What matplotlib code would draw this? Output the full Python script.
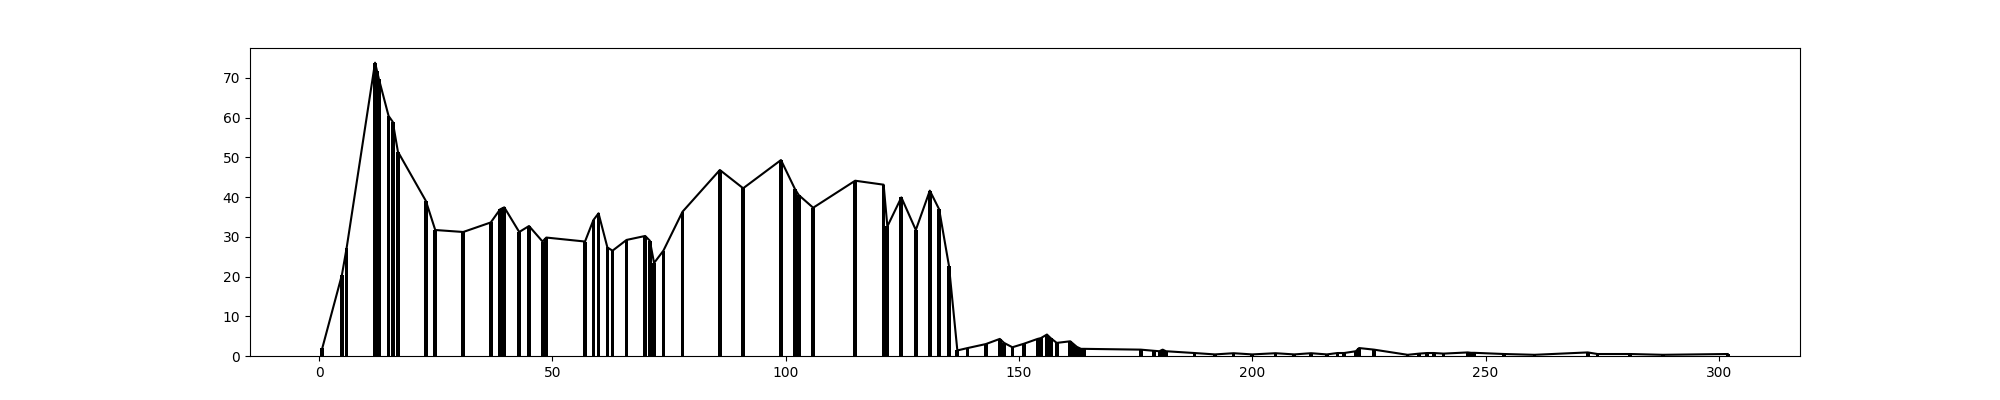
import matplotlib
matplotlib.use("Agg")
import matplotlib.pyplot as plt

x = [0.7, 4.9, 5.9, 12.0, 12.4, 12.8, 14.9, 15.8, 16.9, 22.9, 24.9, 30.9,
     36.8, 38.8, 39.7, 42.9, 45.0, 47.9, 48.7, 57.0, 58.8, 59.9, 61.8, 62.9,
     65.9, 69.9, 70.9, 71.8, 73.8, 77.9, 85.9, 90.9, 99.0, 102.0, 102.8, 105.9,
     114.9, 121.0, 121.8, 124.8, 127.9, 130.9, 132.9, 135.0, 136.8, 139.0,
     142.9, 145.9, 146.8, 148.6, 151.1, 154.0, 154.7, 156.0, 156.8, 158.1,
     161.0, 161.7, 162.4, 163.3, 164.0, 176.1, 179.0, 180.1, 180.8, 181.5,
     187.6, 192.0, 196.0, 200.0, 205.0, 209.0, 212.6, 216.0, 218.3, 219.7,
     222.2, 222.9, 226.1, 233.3, 235.8, 237.5, 238.9, 241.0, 246.2, 246.9,
     247.6, 254.0, 260.5, 271.9, 274.0, 281.0, 288.0, 301.9]
y = [2.0, 20.4, 27.1, 73.8, 71.8, 69.8, 60.4, 58.9, 51.4, 39.0, 31.7, 31.2,
     33.6, 36.9, 37.4, 31.2, 32.7, 28.8, 29.8, 28.8, 34.2, 35.9, 27.3, 26.5,
     29.2, 30.2, 29.0, 23.4, 26.5, 36.3, 46.8, 42.2, 49.3, 42.0, 40.5, 37.3,
     44.1, 43.1, 32.6, 39.9, 31.7, 41.6, 36.9, 22.7, 1.4, 2.0,
     3.0, 4.3, 3.3, 2.2, 3.1, 4.3, 4.5, 5.4, 4.5, 3.3,
     3.7, 3.0, 2.3, 1.8, 1.8, 1.6, 1.3, 1.2, 1.6, 1.2,
     0.75, 0.4, 0.7, 0.4, 0.7, 0.4, 0.7, 0.4, 0.75, 0.75,
     1.2, 2.0, 1.6, 0.3, 0.6, 0.75, 0.75, 0.6, 0.9, 0.8,
     0.8, 0.5, 0.3, 0.9, 0.5, 0.5, 0.3, 0.5]

plt.figure(figsize=(20, 4), dpi=100)
plt.bar(x, y, color='k')
plt.plot(x, y, '-k')
plt.savefig("out.png")
